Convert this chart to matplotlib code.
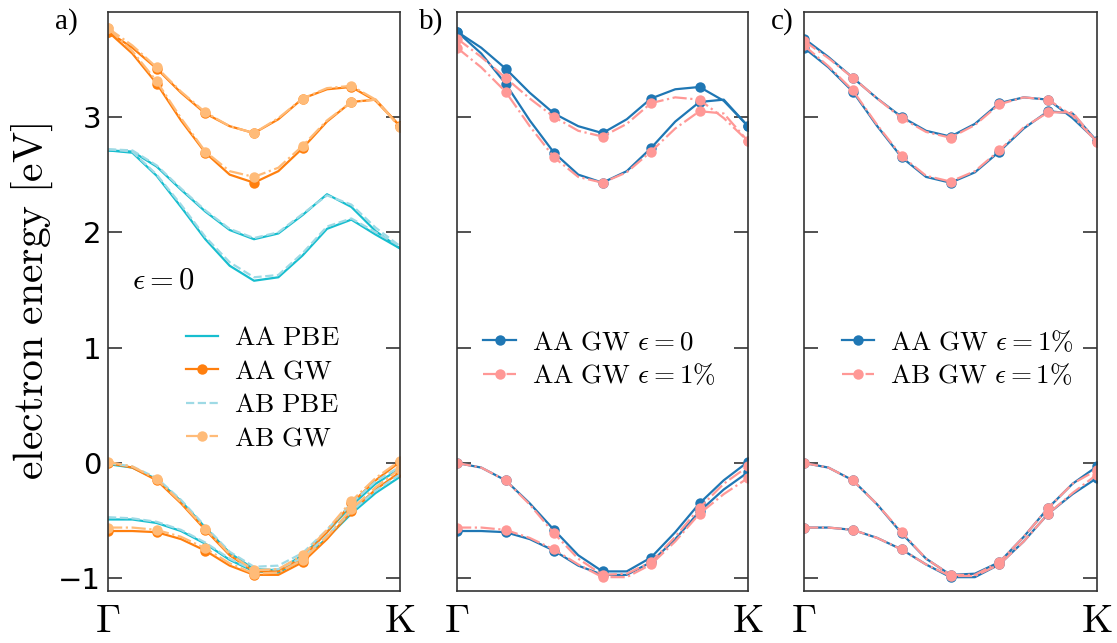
import numpy as np
import matplotlib
matplotlib.use("Agg")
import matplotlib.pyplot as plt

plt.rcParams['mathtext.fontset'] = 'cm'

# k-path Gamma -> K, 13 samples
k = np.linspace(0, 1, 13)
tick_pos = [0, 1]
tick_names = [r'$\Gamma$', r'$\mathrm{K}$']

# panel a) eps = 0, conduction bands
aa_pbe_c1 = [2.71, 2.70, 2.57, 2.37, 2.18, 2.02, 1.94, 1.99, 2.15, 2.33, 2.22, 2.01, 1.86]
aa_pbe_c2 = [2.71, 2.69, 2.49, 2.22, 1.94, 1.71, 1.58, 1.61, 1.80, 2.03, 2.11, 1.98, 1.86]
ab_pbe_c1 = [2.72, 2.71, 2.58, 2.38, 2.19, 2.03, 1.95, 2.00, 2.16, 2.32, 2.24, 2.04, 1.88]
ab_pbe_c2 = [2.72, 2.70, 2.50, 2.24, 1.96, 1.74, 1.61, 1.63, 1.82, 2.05, 2.12, 2.00, 1.88]
aa_gw_c1 = [3.74, 3.60, 3.42, 3.21, 3.03, 2.92, 2.86, 2.98, 3.16, 3.24, 3.26, 3.14, 2.92]
aa_gw_c2 = [3.74, 3.55, 3.29, 2.97, 2.69, 2.50, 2.43, 2.53, 2.73, 2.96, 3.13, 3.15, 2.92]
ab_gw_c1 = [3.77, 3.62, 3.43, 3.22, 3.04, 2.92, 2.86, 2.99, 3.16, 3.25, 3.27, 3.15, 2.91]
ab_gw_c2 = [3.77, 3.57, 3.31, 2.99, 2.70, 2.53, 2.48, 2.56, 2.75, 2.97, 3.13, 3.15, 2.91]

# panel a) valence bands
aa_pbe_v1 = [-0.01, -0.04, -0.14, -0.33, -0.56, -0.78, -0.92, -0.93, -0.80, -0.60, -0.37, -0.18, -0.05]
aa_pbe_v2 = [-0.49, -0.49, -0.52, -0.59, -0.70, -0.84, -0.94, -0.95, -0.84, -0.65, -0.44, -0.26, -0.12]
ab_pbe_v1 = [0.00, -0.03, -0.13, -0.32, -0.55, -0.77, -0.90, -0.89, -0.78, -0.58, -0.35, -0.16, -0.03]
ab_pbe_v2 = [-0.47, -0.48, -0.51, -0.58, -0.69, -0.83, -0.93, -0.92, -0.82, -0.63, -0.42, -0.24, -0.10]
aa_gw_v1 = [0.00, -0.04, -0.15, -0.35, -0.58, -0.80, -0.94, -0.94, -0.82, -0.60, -0.35, -0.15, 0.01]
aa_gw_v2 = [-0.59, -0.59, -0.60, -0.66, -0.76, -0.89, -0.97, -0.97, -0.86, -0.66, -0.42, -0.23, -0.08]
ab_gw_v1 = [0.01, -0.03, -0.14, -0.34, -0.57, -0.79, -0.93, -0.92, -0.80, -0.58, -0.33, -0.13, 0.02]
ab_gw_v2 = [-0.56, -0.56, -0.58, -0.64, -0.74, -0.87, -0.96, -0.95, -0.84, -0.64, -0.40, -0.21, -0.05]

# AA GW at 1% strain
aa1_gw_c1 = [3.68, 3.52, 3.34, 3.16, 3.00, 2.88, 2.83, 2.94, 3.12, 3.17, 3.15, 2.99, 2.79]
aa1_gw_c2 = [3.60, 3.43, 3.22, 2.92, 2.65, 2.48, 2.43, 2.52, 2.70, 2.90, 3.05, 3.03, 2.79]
aa1_gw_v1 = [0.00, -0.04, -0.15, -0.36, -0.61, -0.83, -0.97, -0.96, -0.86, -0.64, -0.39, -0.18, -0.03]
aa1_gw_v2 = [-0.56, -0.56, -0.58, -0.65, -0.75, -0.88, -0.99, -0.99, -0.88, -0.68, -0.44, -0.27, -0.13]

# AB GW at 1% strain
ab1_gw_c1 = [3.66, 3.51, 3.34, 3.16, 2.99, 2.87, 2.82, 2.93, 3.11, 3.17, 3.15, 3.01, 2.78]
ab1_gw_c2 = [3.62, 3.44, 3.23, 2.93, 2.66, 2.49, 2.44, 2.53, 2.71, 2.91, 3.04, 3.04, 2.78]
ab1_gw_v1 = [0.00, -0.04, -0.15, -0.36, -0.60, -0.83, -0.97, -0.97, -0.86, -0.64, -0.39, -0.18, -0.06]
ab1_gw_v2 = [-0.56, -0.56, -0.58, -0.65, -0.75, -0.88, -0.98, -0.98, -0.88, -0.68, -0.44, -0.26, -0.10]


def bands(ax, curves, color, ls, label, marker=None):
    for i, c in enumerate(curves):
        kw = dict(color=color, ls=ls, lw=1.6)
        if marker:
            kw.update(marker=marker, markevery=2, ms=7.5, mew=0)
        ax.plot(k, c, label=label if i == 0 else None, **kw)


fig = plt.figure(figsize=(11.17, 6.43), dpi=100)
W, H = 1117, 643
lefts = [108, 457, 804]
widths = [292, 291, 293]
axes = [fig.add_axes([l / W, 52 / H, w / W, 579 / H]) for l, w in zip(lefts, widths)]

ax1, ax2, ax3 = axes
bands(ax1, [aa_pbe_c1, aa_pbe_c2, aa_pbe_v1, aa_pbe_v2], '#17becf', '-', r'$\mathrm{AA\ PBE}$')
bands(ax1, [aa_gw_c1, aa_gw_c2, aa_gw_v1, aa_gw_v2], '#ff7f0e', '-', r'$\mathrm{AA\ GW}$', 'o')
bands(ax1, [ab_pbe_c1, ab_pbe_c2, ab_pbe_v1, ab_pbe_v2], '#9edae5', '--', r'$\mathrm{AB\ PBE}$')
bands(ax1, [ab_gw_c1, ab_gw_c2, ab_gw_v1, ab_gw_v2], '#ffbb78', '-.', r'$\mathrm{AB\ GW}$', 'o')
ax1.text(0.19, 1.59, r'$\epsilon=0$', fontsize=22, ha='center', va='center')

bands(ax2, [aa_gw_c1, aa_gw_c2, aa_gw_v1, aa_gw_v2], '#1f77b4', '-', r'$\mathrm{AA\ GW}\ \epsilon=0$', 'o')
bands(ax2, [aa1_gw_c1, aa1_gw_c2, aa1_gw_v1, aa1_gw_v2], '#ff9896', '-.', r'$\mathrm{AA\ GW}\ \epsilon=1\%$', 'o')

bands(ax3, [aa1_gw_c1, aa1_gw_c2, aa1_gw_v1, aa1_gw_v2], '#1f77b4', '-', r'$\mathrm{AA\ GW}\ \epsilon=1\%$', 'o')
bands(ax3, [ab1_gw_c1, ab1_gw_c2, ab1_gw_v1, ab1_gw_v2], '#ff9896', '-.', r'$\mathrm{AB\ GW}\ \epsilon=1\%$', 'o')

legend_pos = [(0.53, 0.35), (0.49, 0.40), (0.525, 0.40)]
for i, ax in enumerate(axes):
    ax.set_xlim(0, 1)
    ax.set_ylim(-1.11, 3.91)
    ax.set_yticks([-1, 0, 1, 2, 3])
    ax.set_xticks(tick_pos)
    ax.set_xticklabels(tick_names, fontsize=29)
    ax.tick_params(axis='x', length=0, pad=7)
    ax.tick_params(axis='y', direction='in', left=True, right=True, length=10,
                   width=1.2, labelsize=21, pad=5, color='#333333')
    if i > 0:
        ax.tick_params(axis='y', labelleft=False)
    for s in ax.spines.values():
        s.set_color('#333333')
        s.set_linewidth(1.2)
    ax.legend(loc='center', bbox_to_anchor=legend_pos[i], frameon=False, fontsize=19.5,
              handlelength=1.2, labelspacing=0.27, handletextpad=0.6)

fig.text(32 / W, 1 - 302 / H, r'$\mathrm{electron\ energy\ [eV]}$', rotation=90,
         fontsize=30, ha='center', va='center')
for lbl, x in zip(['a)', 'b)', 'c)'], [66, 431, 782]):
    fig.text(x / W, 1 - 22 / H, lbl, fontsize=21, family='Liberation Serif',
             ha='center', va='center')

fig.savefig('out.png', dpi=100)
